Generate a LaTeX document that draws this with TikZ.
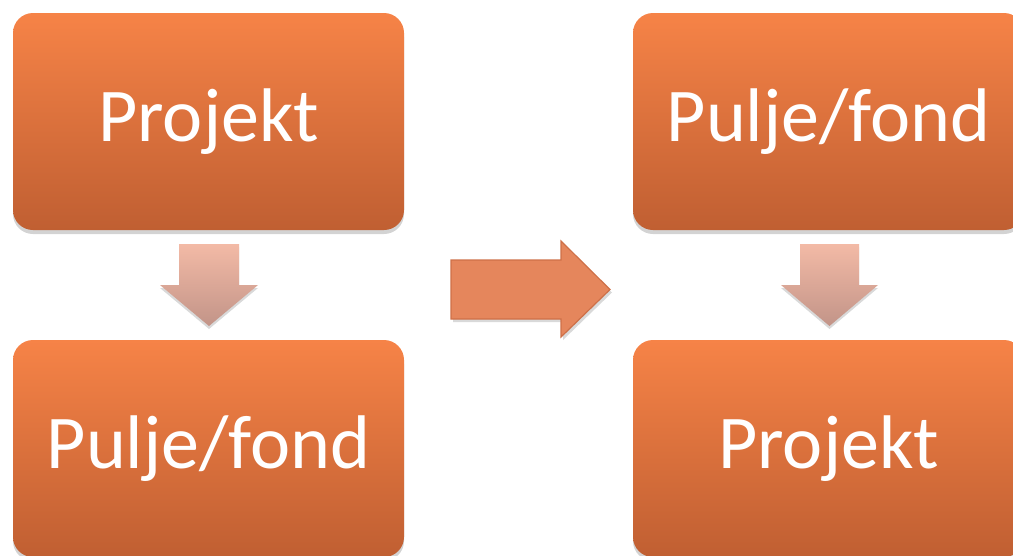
\documentclass[tikz,border=0pt]{standalone}
\usepackage{fontspec}
\setmainfont{Carlito}
\usetikzlibrary{shadows}
\definecolor{boxtop}{RGB}{246,131,71}
\definecolor{boxbot}{RGB}{192,95,50}
\definecolor{arrtop}{RGB}{243,186,166}
\definecolor{arrbot}{RGB}{194,148,136}
\definecolor{bigarr}{RGB}{229,134,92}
\definecolor{bigedge}{RGB}{206,112,72}
\tikzset{
  stagebox/.style={rounded corners=20pt, minimum width=391pt, minimum height=217pt,
    inner sep=0pt, top color=boxtop, bottom color=boxbot, text=white,
    font=\fontsize{76}{90}\selectfont,
    drop shadow={opacity=0.35, shadow xshift=0pt, shadow yshift=-4pt}},
  downarrow/.style={top color=arrtop, bottom color=arrbot,
    drop shadow={opacity=0.3, shadow xshift=0pt, shadow yshift=-3pt}},
  bigarrow/.style={fill=bigarr, draw=bigedge, line width=1.2pt,
    drop shadow={opacity=0.3, shadow xshift=2pt, shadow yshift=-3pt}}
}
\begin{document}
\begin{tikzpicture}[x=1pt, y=-1pt]
\useasboundingbox (0,0) rectangle (1013,555);
\clip (0,0) rectangle (1013,555);

% Boxes (before)
\node[stagebox] (projA) at (208.5,121.5) {Projekt};
\node[stagebox] (fondA) at (208.5,448.5) {Pulje/fond};

% Boxes (after)
\node[stagebox] (fondB) at (828.5,121.5) {Pulje/fond};
\node[stagebox] (projB) at (828.5,448.5) {Projekt};

% Down arrows
\path[downarrow] (179,244) -- (239,244) -- (239,285) -- (258,285) -- (209,326)
  -- (160,285) -- (179,285) -- cycle;
\path[downarrow] (800,244) -- (859,244) -- (859,285) -- (878,285) -- (829.5,326)
  -- (781,285) -- (800,285) -- cycle;

% Big arrow
\draw[bigarrow] (451,260) -- (561,260) -- (561,241) -- (610,289.5) -- (561,337)
  -- (561,319) -- (451,319) -- cycle;

\end{tikzpicture}
\end{document}
